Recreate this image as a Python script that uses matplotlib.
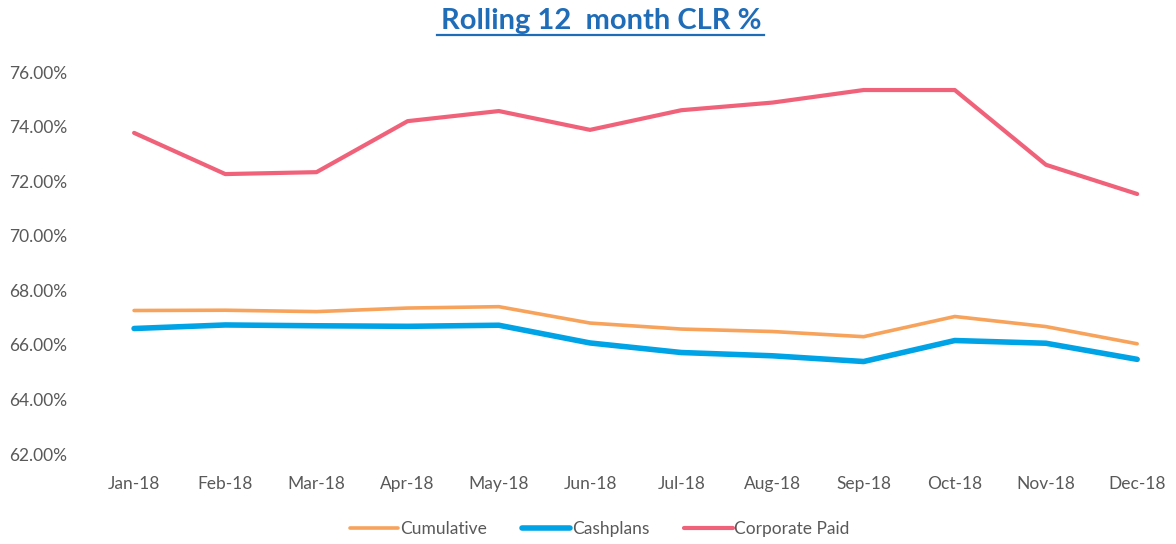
import matplotlib
matplotlib.use("Agg")
import matplotlib.pyplot as plt
from matplotlib.ticker import PercentFormatter

months = ["Jan-18", "Feb-18", "Mar-18", "Apr-18", "May-18", "Jun-18",
          "Jul-18", "Aug-18", "Sep-18", "Oct-18", "Nov-18", "Dec-18"]
cumulative = [67.26, 67.27, 67.22, 67.35, 67.40, 66.80,
              66.58, 66.49, 66.30, 67.04, 66.67, 66.04]
cashplans = [66.60, 66.73, 66.70, 66.68, 66.72, 66.07,
             65.72, 65.60, 65.39, 66.16, 66.06, 65.47]
corporate = [73.77, 72.26, 72.33, 74.20, 74.57, 73.88,
             74.60, 74.88, 75.34, 75.34, 72.60, 71.53]

plt.rcParams['font.family'] = ['Lato', 'DejaVu Sans']

fig = plt.figure(figsize=(11.76, 5.44), dpi=100)
ax = fig.add_axes([0.083, 0.1654, 0.915, 0.7022])

x = range(len(months))
ax.plot(x, cumulative, color='#F7A35C', lw=2.6, label='Cumulative', solid_capstyle='round')
ax.plot(x, cashplans, color='#00A3E6', lw=4.0, label='Cashplans', solid_capstyle='round')
ax.plot(x, corporate, color='#F0627A', lw=3.0, label='Corporate Paid', solid_capstyle='round')

ax.set_xlim(-0.4, 11.4)
ax.set_ylim(62, 76)
ax.set_yticks([62, 64, 66, 68, 70, 72, 74, 76])
ax.yaxis.set_major_formatter(PercentFormatter(decimals=2))
ax.set_xticks(list(x))
ax.set_xticklabels(months)

for s in ax.spines.values():
    s.set_visible(False)
ax.tick_params(axis='both', length=0, labelsize=12.5, colors='#595959')
ax.tick_params(axis='y', pad=22)
ax.tick_params(axis='x', pad=16)

fig.text(0.511, 0.947, "Rolling 12  month CLR %", ha='center', va='baseline',
         fontsize=21, fontweight='bold', color='#1F6DB8')
# underline under the title
fig.add_artist(plt.Line2D([0.372, 0.650], [0.936, 0.936], color='#1F6DB8', lw=1.6,
                          transform=fig.transFigure))

fig.legend(loc='center', bbox_to_anchor=(0.51, 0.027), ncol=3, frameon=False,
           fontsize=12.5, handlelength=2.8, handletextpad=0.1, columnspacing=2.0,
           labelcolor='#595959')

fig.savefig("out.png", dpi=100, facecolor='white')
